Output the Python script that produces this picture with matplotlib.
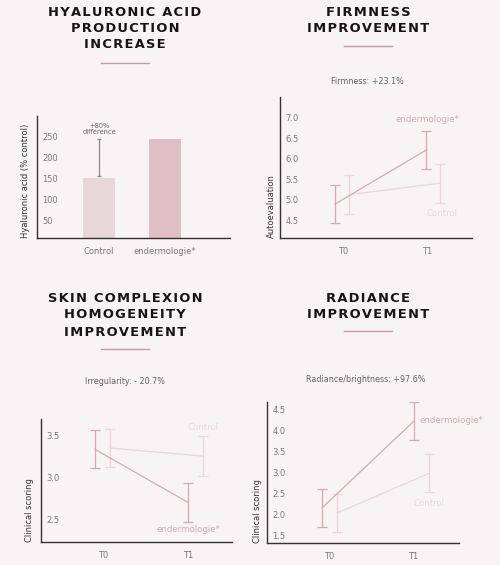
import matplotlib
matplotlib.use("Agg")
import matplotlib.pyplot as plt
from matplotlib.lines import Line2D

W, H = 500, 565
BG = "#f8f3f4"
TITLE_COL = "#151515"
TEXT_COL = "#7a7a7a"
ENDER_COL = "#d8a9b2"
CTRL_COL = "#ecd6da"
RULE_COL = "#c99aa2"

# ---- data ----
ha_groups = ["Control", "endermologie*"]
ha_values = [152, 245]
ha_diff = [157, 245]
ha_yticks = [50, 100, 150, 200, 250]

times = ["T0", "T1"]

firm_ender = [4.89, 6.21]
firm_ender_err = [0.47, 0.47]
firm_ctrl = [5.12, 5.40]
firm_ctrl_err = [0.47, 0.48]
firm_yticks = [4.5, 5.0, 5.5, 6.0, 6.5, 7.0]

skin_ender = [3.33, 2.70]
skin_ender_err = [0.225, 0.235]
skin_ctrl = [3.345, 3.25]
skin_ctrl_err = [0.225, 0.235]
skin_yticks = [2.5, 3.0, 3.5]

rad_ender = [2.16, 4.22]
rad_ender_err = [0.45, 0.46]
rad_ctrl = [2.04, 2.98]
rad_ctrl_err = [0.45, 0.45]
rad_yticks = [1.5, 2.0, 2.5, 3.0, 3.5, 4.0, 4.5]


def fx(x):
	return x / W


def fy(y):
	return 1 - y / H


def spaced(text):
	# hair spaces between letters to imitate the wide tracking
	return "\u200a".join(text)


def makeAxes(fig, left, top, right, bottom):
	ax = fig.add_axes([fx(left), fy(bottom), (right - left) / W, (bottom - top) / H])
	ax.set_facecolor(BG)
	for s in ["top", "right"]:
		ax.spines[s].set_visible(False)
	for s in ["left", "bottom"]:
		ax.spines[s].set_color("#333333")
		ax.spines[s].set_linewidth(1.0)
	ax.tick_params(axis="both", length=0, colors=TEXT_COL, labelsize=6)
	ax.tick_params(axis="y", pad=-4)
	ax.tick_params(axis="x", pad=6.5, labelsize=6)
	return ax


def title(fig, lines, cx, y0, step, rule_y):
	for i, t in enumerate(lines):
		fig.text(fx(cx), fy(y0 + i * step), spaced(t), ha="center", va="center",
			fontsize=9.4, fontweight="bold", color=TITLE_COL)
	fig.add_artist(Line2D([fx(cx - 24), fx(cx + 24)], [fy(rule_y), fy(rule_y)],
		color=RULE_COL, lw=1.0, transform=fig.transFigure))


def yLabel(fig, text, x, bottom):
	fig.text(fx(x), fy(bottom), text, rotation=90, ha="center", va="bottom",
		fontsize=6, color="#333333")


def linePanel(ax, ender, ender_err, ctrl, ctrl_err, offset):
	xe = [0, 1]
	xc = [0 + offset, 1 + offset]
	ax.errorbar(xc, ctrl, yerr=ctrl_err, color=CTRL_COL, lw=0.9, capsize=3.6, capthick=0.9)
	ax.errorbar(xe, ender, yerr=ender_err, color=ENDER_COL, lw=0.9, capsize=3.6, capthick=0.9)


def main():
	fig = plt.figure(figsize=(5, 5.65), dpi=100)
	fig.patch.set_facecolor(BG)

	# ---- Hyaluronic acid ----
	title(fig, ["HYALURONIC ACID", "PRODUCTION", "INCREASE"], 125, 12, 16.5, 63)
	ax = makeAxes(fig, 37, 116, 230, 238)
	ax.bar([0, 1], ha_values, width=0.48, color=["#e7d7db", "#dfbfc5"])
	ax.errorbar([0], [(ha_diff[0] + ha_diff[1]) / 2], yerr=[(ha_diff[1] - ha_diff[0]) / 2],
		color="#8a8a8a", lw=0.9, capsize=1.5, capthick=0.9)
	ax.text(0, 268, "+80%\ndifference", ha="center", va="center", fontsize=4.8,
		color="#666666", linespacing=1.0)
	ax.set_xlim(-0.94, 1.98)
	ax.set_ylim(7, 300)
	ax.set_xticks([0, 1])
	ax.set_xticklabels(ha_groups)
	ax.set_yticks(ha_yticks)
	ax.set_yticklabels([str(v) for v in ha_yticks], ha="left")
	yLabel(fig, "Hyaluronic acid (% control)", 26, 238)

	# ---- Firmness ----
	title(fig, ["FIRMNESS", "IMPROVEMENT"], 368, 12, 16.5, 46)
	fig.text(fx(367), fy(82), "Firmness: +23.1%", ha="center", va="center",
		fontsize=5.8, color="#666666")
	ax = makeAxes(fig, 280, 97, 472, 238)
	linePanel(ax, firm_ender, firm_ender_err, firm_ctrl, firm_ctrl_err, 0.154)
	ax.set_xlim(-0.604, 1.505)
	ax.set_ylim(4.06, 7.51)
	ax.set_xticks([0.088, 1.01])
	ax.set_xticklabels(times)
	ax.set_yticks(firm_yticks)
	ax.set_yticklabels(["%.1f" % v for v in firm_yticks], ha="left")
	ax.text(1.02, 6.95, "endermologie*", ha="center", va="center", fontsize=6.2, color=ENDER_COL)
	ax.text(1.18, 4.67, "Control", ha="center", va="center", fontsize=6.2, color=CTRL_COL)
	yLabel(fig, "Autoevaluation", 271, 238)

	# ---- Skin complexion ----
	title(fig, ["SKIN COMPLEXION", "HOMOGENEITY", "IMPROVEMENT"], 125, 298, 17, 349)
	fig.text(fx(125), fy(381), "Irregularity: - 20.7%", ha="center", va="center",
		fontsize=5.8, color="#666666")
	ax = makeAxes(fig, 41, 419, 232, 542)
	linePanel(ax, skin_ender, skin_ender_err, skin_ctrl, skin_ctrl_err, 0.161)
	ax.set_xlim(-0.58, 1.473)
	ax.set_ylim(2.23, 3.69)
	ax.set_xticks([0.086, 1.0])
	ax.set_xticklabels(times)
	ax.set_yticks(skin_yticks)
	ax.set_yticklabels(["%.1f" % v for v in skin_yticks], ha="left")
	ax.text(1.16, 3.595, "Control", ha="center", va="center", fontsize=6.2, color=CTRL_COL)
	ax.text(1.0, 2.38, "endermologie*", ha="center", va="center", fontsize=6.2, color=ENDER_COL)
	yLabel(fig, "Clinical scoring", 29, 542)

	# ---- Radiance ----
	title(fig, ["RADIANCE", "IMPROVEMENT"], 368, 298, 17, 331)
	fig.text(fx(366), fy(380), "Radiance/brightness: +97.6%", ha="center", va="center",
		fontsize=5.8, color="#666666")
	ax = makeAxes(fig, 267, 402, 459, 543)
	linePanel(ax, rad_ender, rad_ender_err, rad_ctrl, rad_ctrl_err, 0.163)
	ax.set_xlim(-0.598, 1.489)
	ax.set_ylim(1.33, 4.67)
	ax.set_xticks([0.076, 0.99])
	ax.set_xticklabels(times)
	ax.set_yticks(rad_yticks)
	ax.set_yticklabels(["%.1f" % v for v in rad_yticks], ha="left")
	ax.text(1.41, 4.22, "endermologie*", ha="center", va="center", fontsize=6.2, color=ENDER_COL)
	ax.text(1.163, 2.26, "Control", ha="center", va="center", fontsize=6.2, color=CTRL_COL)
	yLabel(fig, "Clinical scoring", 257, 543)

	fig.savefig("out.png", dpi=100, facecolor=BG)
	return 0


if __name__ == '__main__':
	import sys
	sys.exit(main())
